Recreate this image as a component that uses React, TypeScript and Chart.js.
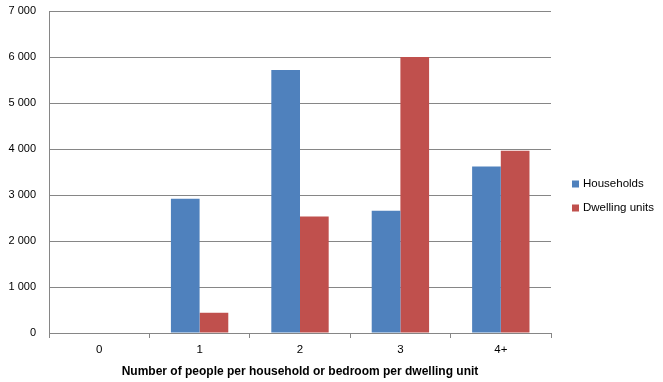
import React, { useEffect, useRef } from "react";
import { Chart, registerables } from "chart.js";

Chart.register(...registerables);

const categories = ["0", "1", "2", "3", "4+"];
const households = [0, 2920, 5720, 2660, 3620];
const dwellingUnits = [0, 440, 2530, 6000, 3960];
const yTicks = [0, 1000, 2000, 3000, 4000, 5000, 6000, 7000];
const seriesNames = ["Households", "Dwelling units"];
const seriesColors = ["#4F81BD", "#C0504D"];
const xTitle = "Number of people per household or bedroom per dwelling unit";

const FONT = "'Liberation Sans', Arial, sans-serif";

const fmt = (v: number) => String(v).replace(/\B(?=(\d{3})+(?!\d))/g, " ");

const legendPlugin = {
  id: "sideLegend",
  afterDraw(chart: any) {
    const ctx = chart.ctx;
    ctx.save();
    ctx.font = `11.5px ${FONT}`;
    ctx.textBaseline = "middle";
    ctx.textAlign = "left";
    chart.data.datasets.forEach((ds: any, i: number) => {
      const y = 184 + i * 24;
      ctx.fillStyle = ds.backgroundColor;
      ctx.fillRect(572, y - 3.5, 7, 7);
      ctx.fillStyle = "#000";
      ctx.fillText(ds.label, 583, y);
    });
    ctx.restore();
  },
};

export default function App() {
  const ref = useRef<HTMLCanvasElement>(null);
  useEffect(() => {
    if (!ref.current) return;
    const chart = new Chart(ref.current, {
      type: "bar",
      data: {
        labels: categories,
        datasets: [
          { label: seriesNames[0], data: households, backgroundColor: seriesColors[0] },
          { label: seriesNames[1], data: dwellingUnits, backgroundColor: seriesColors[1] },
        ],
      },
      plugins: [legendPlugin],
      options: {
        responsive: false,
        animation: false,
        devicePixelRatio: 1,
        layout: { padding: { left: 0, right: 112, top: 11, bottom: 0 } },
        datasets: { bar: { categoryPercentage: 2 / 3.5, barPercentage: 1 } },
        plugins: { legend: { display: false }, tooltip: { enabled: false } },
        scales: {
          x: {
            grid: { drawOnChartArea: false, drawTicks: true, tickLength: 5, color: "#868686", offset: true },
            border: { color: "#868686" },
            ticks: { color: "#000", font: { family: FONT, size: 11.5 }, padding: 5 },
            title: {
              display: true,
              text: xTitle,
              color: "#000",
              font: { family: FONT, size: 12, weight: "bold" },
              padding: { top: 0, bottom: 3 },
            },
            afterFit: (s: any) => { s.height = 49; s.paddingLeft = 0; s.paddingRight = 0; s.paddingTop = 0; s.paddingBottom = 0; },
          },
          y: {
            min: 0,
            max: 7000,
            afterBuildTicks: (s: any) => { s.ticks = yTicks.map((v) => ({ value: v })); },
            grid: { color: "#868686", drawTicks: false },
            border: { color: "#868686" },
            ticks: {
              color: "#000",
              font: { family: FONT, size: 11 },
              padding: 13,
              callback: (v: any) => fmt(Number(v)),
            },
            afterFit: (s: any) => { s.width = 49; s.paddingTop = 0; s.paddingBottom = 0; s.paddingLeft = 0; s.paddingRight = 0; },
          },
        },
      },
    });
    return () => chart.destroy();
  }, []);
  return (
    <div style={{ position: "absolute", left: 0, top: 0, width: 663, height: 382, background: "#fff" }}>
      <canvas ref={ref} width={663} height={382} />
    </div>
  );
}
